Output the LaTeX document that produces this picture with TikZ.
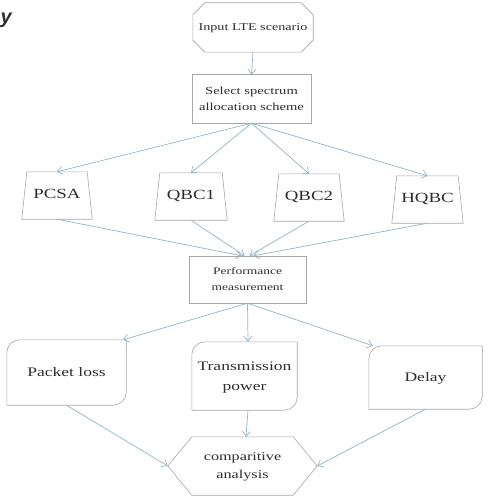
\documentclass[tikz,border=0pt]{standalone}
\usepackage{fontspec}
\setmainfont{Liberation Serif}
\newfontfamily\headsans{Liberation Sans}
\usetikzlibrary{arrows.meta}
\definecolor{conncol}{HTML}{93B4C6}
\definecolor{linecol}{HTML}{A8A8A8}
\definecolor{txtcol}{HTML}{2E2E2E}
% widened text block, one or more centred lines
\newcommand\wt[3]{\scalebox{1.35}[1]{\fontsize{#1}{#2}\selectfont\begin{tabular}{@{}c@{}}#3\end{tabular}}}
\begin{document}
\begin{tikzpicture}[x=1pt,y=-1pt,
  box/.style={inner sep=0pt,text=txtcol},
  outline/.style={draw=linecol,line width=0.6pt},
  conn/.style={draw=conncol,line width=0.7pt,-{Straight Barb[length=5pt,width=8pt]}}]
\useasboundingbox[fill=white] (0,0) rectangle (487,497);

% heading fragment at the upper left
\node[anchor=base west,inner sep=0pt,text=txtcol] (frag) at (0.5,24)
  {\headsans\bfseries\itshape\fontsize{20}{20}\selectfont y};

% nodes
\node[box,minimum width=120,minimum height=49] (in) at (253,27.5) {\wt{10.5}{13}{Input LTE scenario}};
\node[box,minimum width=119,minimum height=48] (sel) at (251.5,99) {\wt{10.8}{16}{Select spectrum\\allocation scheme}};

\node[box,minimum width=70,minimum height=47] (pcsa) at (57,195.5) {\wt{14}{16}{PCSA}};
\node[box,minimum width=72,minimum height=47] (qbc1) at (191,196.5) {\wt{14}{16}{QBC1}};
\node[box,minimum width=70,minimum height=47] (qbc2) at (309,197.5) {\wt{14}{16}{QBC2}};
\node[box,minimum width=71,minimum height=47] (hqbc) at (427.5,199.5) {\wt{14}{16}{HQBC}};

\node[box,minimum width=117,minimum height=47] (perf) at (247.5,279.5) {\wt{10}{16}{Performance\\measurement}};

\node[box,minimum width=119,minimum height=65] (pl) at (66.5,372.5) {\wt{13}{20}{Packet loss}};
\node[box,minimum width=105,minimum height=68] (tp) at (244.5,376) {\wt{13}{20}{Transmission\\power}};
\node[box,minimum width=113,minimum height=63] (dl) at (425.5,377.5) {\wt{13}{20}{Delay}};

\node[box,minimum width=149,minimum height=58] (ca) at (242.5,466) {\wt{12}{18}{comparitive\\analysis}};

% outlines
\draw[outline] ([xshift=12pt]in.north west) -- ([xshift=-12pt]in.north east)
  -- ([yshift=-12pt]in.north east) -- ([yshift=12pt]in.south east)
  -- ([xshift=-12pt]in.south east) -- ([xshift=12pt]in.south west)
  -- ([yshift=12pt]in.south west) -- ([yshift=-12pt]in.north west) -- cycle;
\draw[outline] (sel.north west) rectangle (sel.south east);
\draw[outline] (perf.north west) rectangle (perf.south east);
\foreach \n in {pcsa,qbc1,qbc2,hqbc}
  \draw[outline] ([xshift=5pt]\n.north west) -- ([xshift=-5pt]\n.north east)
    -- (\n.south east) -- (\n.south west) -- cycle;
\foreach \n in {pl,tp,dl}
  \draw[outline] ([xshift=13pt]\n.north west) -- (\n.north east)
    -- ([yshift=13pt]\n.south east) arc[start angle=0,end angle=-90,radius=13pt]
    -- (\n.south west) -- ([yshift=-13pt]\n.north west)
    arc[start angle=180,end angle=90,radius=13pt] -- cycle;
\draw[outline] ([xshift=24pt]ca.north west) -- ([xshift=-24pt]ca.north east)
  -- (ca.east) -- ([xshift=-24pt]ca.south east) -- ([xshift=24pt]ca.south west)
  -- (ca.west) -- cycle;

% connectors
\draw[conn] (in.south) -- (sel.north);
\foreach \n in {pcsa,qbc1,qbc2,hqbc}
  \draw[conn] (sel.south) -- (\n.north);
\draw[conn] (pcsa.south) -- ([xshift=-6pt]perf.north);
\draw[conn] (qbc1.south) -- ([xshift=-3pt]perf.north);
\draw[conn] (qbc2.south) -- ([xshift=2pt]perf.north);
\draw[conn] (hqbc.south) -- ([xshift=6pt]perf.north);
\draw[conn] (perf.south) -- ([xshift=-3pt]pl.north east);
\draw[conn] (perf.south) -- ([xshift=3.5pt]tp.north);
\draw[conn] (perf.south) -- ([xshift=4pt]dl.north west);
\draw[conn] (pl.south) -- (ca.west);
\draw[conn] ([xshift=3.5pt]tp.south) -- ([xshift=3.5pt]ca.north);
\draw[conn] (dl.south) -- (ca.east);
\end{tikzpicture}
\end{document}
